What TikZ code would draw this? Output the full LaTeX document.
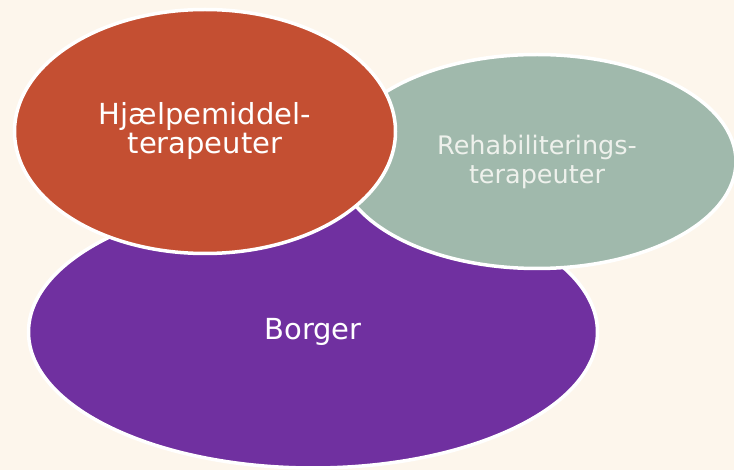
\documentclass[tikz,border=0pt]{standalone}
\usepackage{fontspec}
\setmainfont{DejaVu Sans}
\usetikzlibrary{shapes.geometric}

\definecolor{bgcream}{HTML}{FDF6EC}
\definecolor{borgerpurple}{HTML}{7030A0}
\definecolor{hjaelporange}{HTML}{C44F32}
\definecolor{rehabgreen}{HTML}{A0B9AC}
\definecolor{rehabtext}{HTML}{EEF1EC}

\begin{document}
\begin{tikzpicture}[x=1pt, y=-1pt,
	blob/.style={ellipse, draw=white, line width=3.5pt, inner sep=0pt, align=center, text=white}]

% parameters %{{{2

	\def\picwidth{734}
	\def\picheight{470}

% canvas %{{{2

	\fill[bgcream] (0,0) rectangle (\picwidth,\picheight);
	\useasboundingbox (0,0) rectangle (\picwidth,\picheight);
	\clip (0,0) rectangle (\picwidth,\picheight);

% borger %{{{2

	\node[blob, fill=borgerpurple, minimum width=569pt, minimum height=272pt,
		font=\fontsize{29}{31}\selectfont] (borger) at (313,332) {Borger};

% rehabiliteringsterapeuter %{{{2

	\node[blob, fill=rehabgreen, text=rehabtext, minimum width=398pt, minimum height=214pt,
		font=\fontsize{25.5}{29}\selectfont] (rehab) at (537,161.5) {Rehabiliterings-\\terapeuter};

% hjaelpemiddelterapeuter %{{{2

	\node[blob, fill=hjaelporange, minimum width=381pt, minimum height=244pt,
		font=\fontsize{29}{29}\selectfont] (hjaelp) at (205,131.5) {Hjælpemiddel-\\terapeuter};

% closing %{{{2

\end{tikzpicture}
\end{document}
